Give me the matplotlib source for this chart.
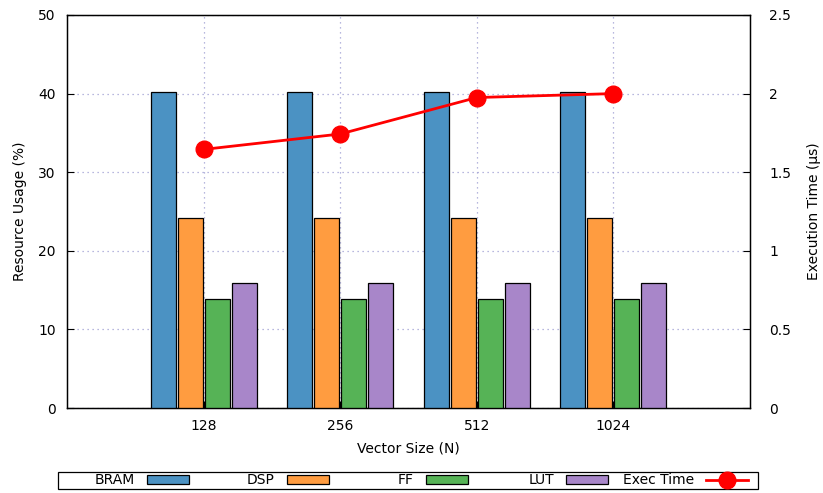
import matplotlib
matplotlib.use("Agg")
import matplotlib.pyplot as plt
import matplotlib.patches as mpatches
from matplotlib.lines import Line2D
import numpy as np

# resource usage (%) and execution time (us) per vector size
sizes = ["128", "256", "512", "1024"]
bram = [40.2, 40.2, 40.2, 40.2]
dsp = [24.2, 24.2, 24.2, 24.2]
ff = [13.9, 13.9, 13.9, 13.9]
lut = [15.9, 15.9, 15.9, 15.9]
exec_time = [1.645, 1.743, 1.975, 2.0]

names = ["BRAM", "DSP", "FF", "LUT"]
colors = ["#4b92c3", "#ff9c40", "#56b356", "#a886c9"]
series = [bram, dsp, ff, lut]

plt.rcParams["font.family"] = "DejaVu Sans"
plt.rcParams["font.size"] = 10

W, H = 823, 493
fig = plt.figure(figsize=(W / 100, H / 100), dpi=100)
ax = fig.add_axes([67 / W, 85 / H, 683 / W, 393 / H])

x = np.arange(1, len(sizes) + 1)
width = 0.183
step = 0.198
for i, (vals, col) in enumerate(zip(series, colors)):
    ax.bar(x + (i - 1.5) * step, vals, width, color=col,
           edgecolor="black", linewidth=0.9, zorder=3)

ax.set_xlim(0, 5)
ax.set_ylim(0, 50)
ax.set_xticks(x)
ax.set_xticklabels(sizes)
ax.set_yticks(np.arange(0, 51, 10))
ax.set_xlabel("Vector Size (N)", labelpad=6)
ax.set_ylabel("Resource Usage (%)", labelpad=8)
ax.grid(True, linestyle=(0, (1, 3)), color="#a0a0d4", linewidth=0.9, zorder=0)
ax.tick_params(direction="in", length=5, width=0.8, pad=8)
for s in ax.spines.values():
    s.set_linewidth(1.0)

ax2 = ax.twinx()
ax2.plot(x, exec_time, color="red", linewidth=2, marker="o",
         markersize=12, zorder=4)
ax2.set_ylim(0, 2.5)
ax2.set_yticks([0, 0.5, 1, 1.5, 2, 2.5])
ax2.set_yticklabels(["0", "0.5", "1", "1.5", "2", "2.5"])
ax2.set_ylabel("Execution Time (µs)", labelpad=11)
ax2.tick_params(direction="in", length=5, width=0.8, pad=14)

# legend row under the plot: label on the left, key sample on the right
handles = [mpatches.Patch(facecolor=c, edgecolor="black", linewidth=0.9)
           for c in colors]
handles.append(Line2D([], [], color="red", linewidth=2, marker="o",
                      markersize=12))
labels = names + ["Exec Time"]
key_ends = [189, 329, 468, 608, 748]
for h, lab, xe in zip(handles, labels, key_ends):
    fig.legend([h], [lab], loc="center right", markerfirst=False,
               bbox_to_anchor=(xe / W, 12.5 / H), frameon=False,
               handlelength=3.0, handleheight=0.65, handletextpad=0.9,
               borderpad=0, borderaxespad=0)
fig.add_artist(mpatches.Rectangle((58 / W, 4 / H), 700 / W, 17 / H,
                                  transform=fig.transFigure, fill=False,
                                  edgecolor="black", linewidth=0.9))

fig.savefig("out.png", dpi=100)
